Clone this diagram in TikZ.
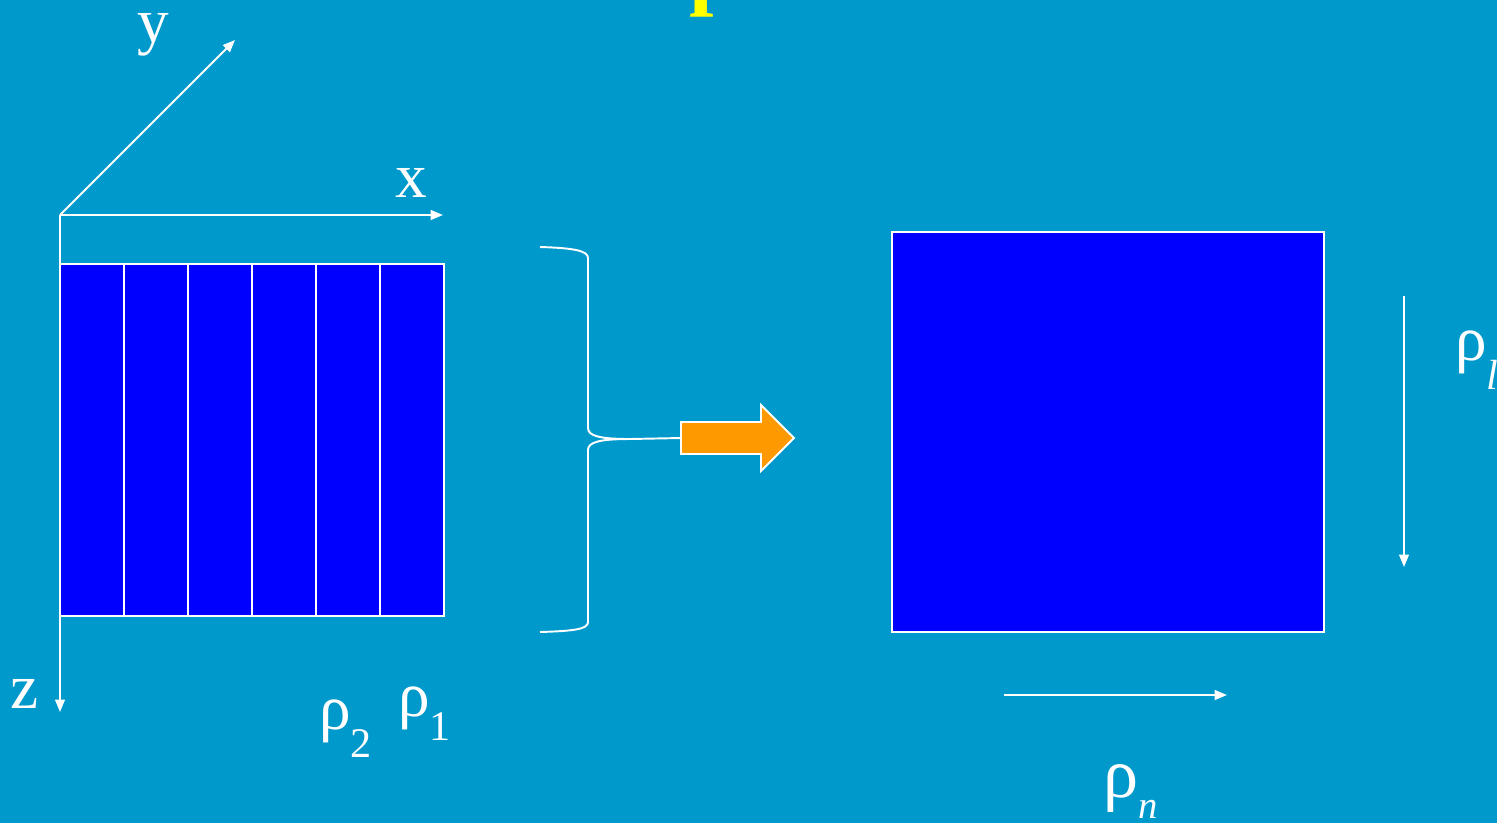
\documentclass[tikz,border=0pt]{standalone}
\usepackage{fontspec}
\setmainfont{Liberation Serif}
\usetikzlibrary{arrows.meta, positioning}
\definecolor{slidebg}{RGB}{0, 153, 204}
\definecolor{slabblue}{RGB}{0, 0, 255}
\definecolor{fwdorange}{RGB}{255, 153, 0}
\definecolor{titleyellow}{RGB}{255, 255, 0}
\newcommand{\rhosub}[3][36]{{\fontsize{#1}{40}\selectfont ρ}\raisebox{-#2}{#3}}
\tikzset{
  strip/.style={rectangle, draw=white, fill=slabblue, line width=1.1pt,
                inner sep=0pt, outer sep=0pt, minimum width=1.28cm, minimum height=7.04cm},
  axis/.style={-{Triangle[length=7pt, width=5.5pt]}, line width=1.1pt, draw=white},
  axlabel/.style={text=white, font=\fontsize{36}{40}\selectfont, inner sep=0pt},
  rholabel/.style={text=white, font=\fontsize{24}{28}\selectfont, inner sep=0pt, anchor=base west},
  brace/.style={draw=white, line width=1.1pt},
  bigarrow/.style={draw=white, fill=fwdorange, line width=1.1pt},
}

\begin{document}
\begin{tikzpicture}[x=0.02cm, y=-0.02cm]
  \clip (0,0) rectangle (1497,823);
  \fill[slidebg] (0,0) rectangle (1497,823);

  \node[text=titleyellow, font=\fontsize{50}{50}\selectfont\bfseries,
        anchor=base west, inner sep=0pt] (titlep) at (689,-2) {p};

  % slab of strips
  \node[strip] (strip1) at (92,440) {};
  \node[strip] (strip2) at (156,440) {};
  \node[strip] (strip3) at (220,440) {};
  \node[strip] (strip4) at (284,440) {};
  \node[strip] (strip5) at (348,440) {};
  \node[strip] (strip6) at (412,440) {};

  % axes
  \coordinate (origin) at (60,215);
  \coordinate (yend) at (235,40);
  \coordinate (xend) at (443,215);
  \coordinate (zend) at (60,712);
  \draw[axis] (origin) -- (yend);
  \draw[axis] (origin) -- (xend);
  \draw[axis] (origin) -- (zend);
  \node[axlabel] (ylab) at (153,35) {y};
  \node[axlabel] (xlab) at (411,183) {x};
  \node[axlabel] (zlab) at (25,694) {z};

  \node[rholabel] (rho2) at (319,729) {\rhosub{16pt}{2}};
  \node[rholabel] (rho1) at (398,716) {\rhosub{14pt}{1}};

  % brace and arrow
  \coordinate (bracetip) at (630,439);
  \coordinate (arrtail) at (681,438);
  \draw[brace] (540,247) .. controls (575,248) and (588,251) .. (588,258) -- (588,428)
        .. controls (588,436) and (600,439) .. (bracetip);
  \draw[brace] (bracetip) .. controls (600,439) and (588,442) .. (588,450) -- (588,622)
        .. controls (588,629) and (575,631) .. (540,632);
  \draw[brace] (bracetip) -- (arrtail);
  \draw[bigarrow] (arrtail) -- (681,422) -- (761,422) -- (761,405) -- (794,438)
        -- (761,471) -- (761,454) -- (681,454) -- cycle;

  % merged slab
  \node[strip, minimum width=8.64cm, minimum height=8cm] (slab) at (1108,432) {};

  \coordinate (ltop) at (1404,296);
  \coordinate (lbot) at (1404,567);
  \coordinate (nleft) at (1004,695);
  \coordinate (nright) at (1227,695);
  \draw[axis] (ltop) -- (lbot);
  \draw[axis] (nleft) -- (nright);
  \node[rholabel] (rhol) at (1455,360) {\rhosub{17pt}{\textit{l}}};
  \node[rholabel, font=\fontsize{22}{26}\selectfont] (rhon) at (1103,797) {\rhosub[40]{12pt}{\textit{n}}};
\end{tikzpicture}
\end{document}
